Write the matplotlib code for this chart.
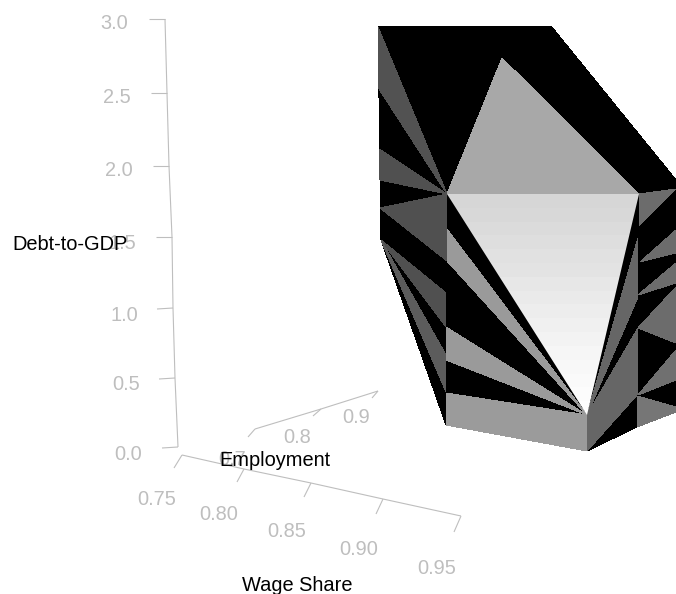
"""
Debt-to-GDP surface over wage share and employment, as a flat projected mesh.
Facet corners and axis ends are read off the picture in pixel coordinates.
"""

import matplotlib

matplotlib.use("Agg")
import matplotlib.pyplot as plt
import numpy as np
from matplotlib.patches import Polygon

plt.rcParams["font.family"] = ["Liberation Sans", "DejaVu Sans"]

W, H = 676, 594
AXIS_GREY = "#bebebe"

# mesh facets (pixel x, y)
silhouette = [(378, 26), (551, 26), (676, 180), (676, 412), (637, 427), (587, 451), (446, 425), (381, 240)]
top_facet = [(502, 58), (447, 194), (639, 194)]
front_facet = [(447, 194), (639, 194), (587, 415)]
front_shades = [214, 216, 219, 222, 225, 228, 231, 234, 237, 240, 243, 246, 248, 250, 252, 254]

left_wedges = [
    [(378, 27), (447, 194), (379, 89)],
    [(379, 149), (447, 194), (380, 180)],
    [(447, 194), (380, 208), (447, 261)],
    [(381, 240), (446, 293), (446, 327)],
    [(381, 240), (446, 355), (446, 392)],
]
left_shades = [82, 80, 80, 80, 92]

mid_wedges = [
    [(447, 229), (447, 261), (587, 415)],
    [(446, 327), (446, 360), (587, 415)],
    [(446, 393), (587, 415), (587, 451), (446, 425)],
]
mid_shades = [154, 154, 155]

right_wedges = [
    [(587, 415), (638, 238), (638, 297)],
    [(587, 415), (638, 328), (637, 395), (587, 451)],
    [(639, 194), (676, 189), (639, 226)],
    [(640, 262), (676, 230), (676, 253)],
    [(638, 295), (676, 263), (676, 283)],
    [(638, 328), (676, 287), (676, 343)],
    [(638, 395), (676, 350), (676, 380)],
    [(637, 396), (676, 407), (676, 412), (637, 427)],
]
right_shades = [102, 102, 108, 108, 108, 108, 112, 118]

# axes, label positions are text baselines
debt_ticks = ["0.0", "0.5", "1.0", "1.5", "2.0", "2.5", "3.0"]
debt_axis = [(178, 447), (175, 378), (173, 308), (172, 237), (169, 166), (167, 93), (165, 19)]
debt_tick_ends = [(162, 448), (159, 379), (157, 309), (156, 237), (153, 166), (151, 93), (149, 19)]
debt_label_pos = [(128, 460), (126, 390), (124, 321), (122, 249), (119, 176), (117, 103), (114, 29)]

wage_ticks = ["0.75", "0.80", "0.85", "0.90", "0.95"]
wage_axis = [(182, 455), (244, 469), (311, 483), (383, 499), (461, 516)]
wage_tick_ends = [(174, 468), (237, 482), (304, 497), (376, 514), (454, 532)]
wage_label_pos = [(157, 505), (219, 520), (287, 537), (359, 555), (437, 574)]

emp_ticks = ["0.7", "0.8", "0.9"]
emp_axis = [(255, 429), (321, 409), (378, 391)]
emp_tick_ends = [(248, 437), (313, 416), (372, 398)]
emp_label_pos = [(232, 465), (297, 443), (356, 423)]

titles = ["Debt-to-GDP", "Employment", "Wage Share"]
title_pos = [(70.5, 250), (275, 466), (297, 591)]


def grey(v):
    return (v / 255, v / 255, v / 255)


def add_facet(ax, pts, shade):
    ax.add_patch(Polygon(pts, closed=True, fc=grey(shade), ec="none", lw=0, antialiased=False, zorder=2))


def draw_axis(ax, line, ends, labels, label_pos):
    xs, ys = zip(*line)
    ax.plot(xs, ys, color=AXIS_GREY, lw=0.8, zorder=1, solid_capstyle="butt")
    for (x0, y0), (x1, y1) in zip(line, ends):
        ax.plot([x0, x1], [y0, y1], color=AXIS_GREY, lw=0.8, zorder=1, solid_capstyle="butt")
    for text, (x, y) in zip(labels, label_pos):
        ax.text(x, y, text, color=AXIS_GREY, fontsize=14.4, ha="center", va="baseline", zorder=1)


def main():
    fig = plt.figure(figsize=(W / 100, H / 100), dpi=100)
    ax = fig.add_axes([0, 0, 1, 1])
    ax.set_xlim(0, W)
    ax.set_ylim(H, 0)
    ax.axis("off")

    draw_axis(ax, debt_axis, debt_tick_ends, debt_ticks, debt_label_pos)
    draw_axis(ax, wage_axis, wage_tick_ends, wage_ticks, wage_label_pos)
    draw_axis(ax, emp_axis, emp_tick_ends, emp_ticks, emp_label_pos)

    add_facet(ax, silhouette, 0)
    add_facet(ax, top_facet, 168)
    for pts, shade in zip(left_wedges + mid_wedges + right_wedges, left_shades + mid_shades + right_shades):
        add_facet(ax, pts, shade)

    # banded grey fill on the big front facet
    clip = Polygon(front_facet, closed=True, transform=ax.transData)
    img = ax.imshow(
        np.array(front_shades).reshape(-1, 1),
        cmap="gray",
        vmin=0,
        vmax=255,
        extent=(447, 639, 415, 194),
        aspect="auto",
        interpolation="nearest",
        zorder=3,
    )
    img.set_clip_path(clip)
    ax.set_xlim(0, W)
    ax.set_ylim(H, 0)

    for text, (x, y) in zip(titles, title_pos):
        ax.text(x, y, text, color="black", fontsize=14.4, ha="center", va="baseline", zorder=4)

    fig.savefig("out.png", dpi=100)


if __name__ == "__main__":
    main()
